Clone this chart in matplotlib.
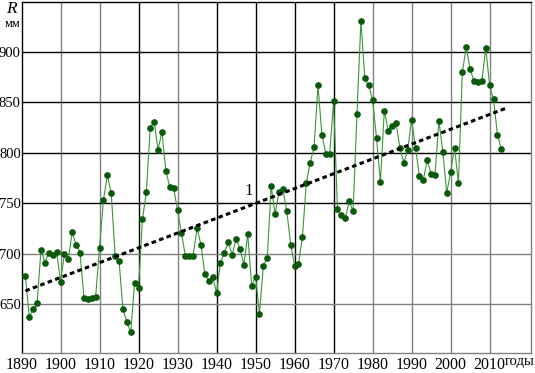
#!/usr/bin/env python3
"""Annual precipitation R (mm), 1891-2013, with linear trend (line 1)."""

import matplotlib

matplotlib.use("Agg")
import matplotlib.pyplot as plt
import numpy as np

# --- data ------------------------------------------------------------------
years = np.arange(1891, 2014)
precip_mm = [
    678, 637, 645, 651, 704, 691, 701, 699, 702, 672,            # 1891-1900
    700, 695, 721, 709, 701, 656, 655, 656, 657, 706,            # 1901-1910
    753, 778, 760, 698, 693, 645, 632, 622, 671, 666,            # 1911-1920
    734, 761, 825, 831, 803, 821, 782, 766, 765, 743,            # 1921-1930
    720, 698, 698, 698, 725, 709, 680, 673, 677, 661,            # 1931-1940
    691, 701, 711, 699, 714, 705, 689, 719, 668, 677,            # 1941-1950
    640, 688, 696, 767, 739, 761, 764, 742, 709, 688,            # 1951-1960
    690, 716, 770, 790, 806, 867, 818, 799, 799, 851,            # 1961-1970
    744, 738, 735, 752, 742, 839, 931, 874, 867, 852,            # 1971-1980
    815, 771, 842, 822, 827, 830, 805, 790, 803, 833,            # 1981-1990
    805, 777, 773, 793, 779, 778, 832, 801, 760, 781,            # 1991-2000
    805, 770, 880, 905, 883, 871, 870, 871, 904, 867,            # 2001-2010
    853, 818, 804,                                               # 2011-2013
]
trend_years = [1891, 2014]
trend_mm = [663, 844]

x_ticks = list(range(1890, 2020, 10))
y_ticks = [650, 700, 750, 800, 850, 900]
x_label = "годы"
y_label = "R"
y_unit = "мм"
trend_label = "1"

# styling of the scanned grid: some lines came out black, some grey
vgrid_colors = {1900: "#808080", 1910: "#808080", 1920: "#000000", 1930: "#808080",
                1940: "#000000", 1950: "#000000", 1960: "#000000", 1970: "#000000",
                1980: "#808080", 1990: "#808080", 2000: "#808080", 2010: "#808080"}
hgrid_colors = {650: "#808080", 700: "#808080", 750: "#000000", 800: "#000000",
                850: "#000000", 900: "#000000"}

plt.rcParams["font.family"] = ["Liberation Serif", "DejaVu Serif"]

fig = plt.figure(figsize=(5.35, 3.73), dpi=100)
ax = fig.add_axes([0.0402, 0.0528, 0.9523, 0.9426])
ax.set_xlim(1890, 2020.6)
ax.set_ylim(601, 950)

for yr, col in vgrid_colors.items():
    ax.axvline(yr, color=col, lw=1.0, zorder=1)
for val, col in hgrid_colors.items():
    ax.axhline(val, color=col, lw=1.0, zorder=1)

ax.plot(years, precip_mm, color="#3a963a", lw=0.8, zorder=3)
ax.plot(years, precip_mm, ls="none", marker="o", ms=3.8, mfc="#0b5a0b", mec="#0b5a0b", zorder=4)
ax.plot(trend_years, trend_mm, color="black", lw=2.2, ls=(0, (1.5, 1.1)), zorder=5)
ax.text(1948.3, 762, trend_label, fontsize=12, ha="center", va="center", zorder=6)

ax.set_xticks(x_ticks)
ax.set_yticks(y_ticks)
ax.tick_params(axis="x", length=0, labelsize=11.5, pad=3)
ax.tick_params(axis="y", length=0, labelsize=10.5, pad=0.5)

ax.spines["left"].set_color("#000000")
ax.spines["top"].set_color("#000000")
ax.spines["bottom"].set_color("#808080")
ax.spines["right"].set_color("#808080")
for sp in ax.spines.values():
    sp.set_linewidth(1.0)

ax.text(2013.9, 599.5, x_label, fontsize=10.5, ha="left", va="top",
        transform=ax.transData)
fig.text(0.022, 0.975, y_label, fontsize=12.5, style="italic", ha="center", va="center")
fig.text(0.024, 0.935, y_unit, fontsize=9, ha="center", va="center")

fig.savefig("out.png", dpi=100)
